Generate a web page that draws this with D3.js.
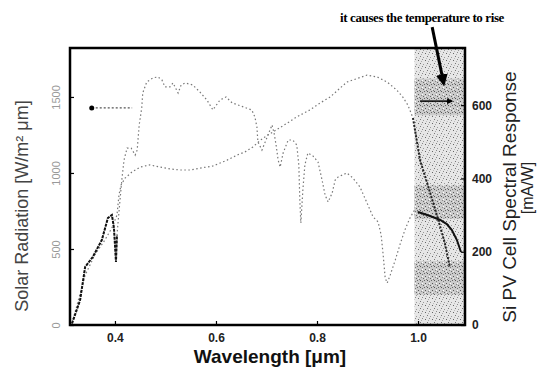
<!DOCTYPE html>
<html>
<head>
<meta charset="utf-8">
<script src="https://cdn.jsdelivr.net/npm/d3@7"></script>
<style>
  body { margin: 0; background: #fff; }
  svg { display: block; }
  .tick line { stroke: #000; stroke-width: 1.2; }
</style>
</head>
<body>
<svg width="537" height="373"></svg>
<script>
// wavelength (um) and solar radiation (W/m2 um)
var solarX = [0.315, 0.331, 0.341, 0.356, 0.374, 0.386, 0.394, 0.398, 0.402, 0.404, 0.410, 0.414, 0.418, 0.424, 0.432, 0.440, 0.444, 0.448,
  0.453, 0.455, 0.463, 0.475, 0.485, 0.493, 0.499, 0.509, 0.515, 0.525, 0.531, 0.539, 0.554, 0.568, 0.582, 0.594, 0.608, 0.620, 0.632,
  0.671, 0.677, 0.681, 0.683, 0.691, 0.699, 0.707, 0.711, 0.715, 0.719, 0.723, 0.727, 0.733, 0.743, 0.752, 0.760, 0.764, 0.766, 0.768,
  0.772, 0.776, 0.782, 0.792, 0.802, 0.810, 0.816, 0.822, 0.830, 0.836, 0.842, 0.859, 0.871, 0.885, 0.899, 0.911, 0.921, 0.927, 0.931,
  0.935, 0.939, 0.945, 0.955, 0.964, 0.974, 0.984, 0.992, 1.000, 1.024, 1.044, 1.057, 1.067, 1.077, 1.085];
var solarY = [10, 164, 382, 447, 559, 704, 724, 638, 414, 592, 822, 967, 1086, 1164, 1164, 1118, 1151, 1316,
  1428, 1526, 1599, 1625, 1632, 1612, 1566, 1566, 1592, 1526, 1579, 1592, 1579, 1533, 1480, 1415, 1480, 1500, 1461,
  1414, 1368, 1303, 1204, 1151, 1217, 1283, 1316, 1263, 1184, 1086, 1039, 1132, 1217, 1217, 1184, 1053, 822, 671,
  888, 1053, 1132, 1112, 1072, 954, 855, 809, 868, 954, 974, 1000, 967, 908, 803, 711, 678, 592, 461,
  309, 276, 329, 428, 526, 625, 704, 750, 743, 717, 691, 664, 625, 559, 480];

// Si cell spectral response (mA/W)
var respX = [0.315, 0.341, 0.360, 0.380, 0.394, 0.404, 0.408, 0.412, 0.420, 0.434, 0.450, 0.469, 0.489, 0.509, 0.529, 0.549, 0.568,
  0.594, 0.622, 0.642, 0.657, 0.673, 0.693, 0.713, 0.741, 0.760, 0.786, 0.806, 0.826, 0.859, 0.899, 0.919, 0.939, 0.958, 0.970,
  0.980, 0.990, 1.004, 1.018, 1.030, 1.040, 1.053, 1.063];
var respY = [5, 136, 191, 232, 265, 300, 355, 382, 401, 418, 431, 437, 431, 426, 423, 423, 428,
  434, 450, 464, 472, 486, 510, 527, 551, 568, 587, 606, 622, 663, 682, 677, 663, 641, 622,
  600, 565, 450, 388, 333, 287, 224, 158];

var xTicks = [0.4, 0.6, 0.8, 1.0];
var leftTicks = [0, 500, 1000, 1500];
var rightTicks = [0, 200, 400, 600];

var shadeFrom = 0.993;   // heated band beyond ~1 um
var denseBands = [[1620, 1380], [920, 700], [420, 200]];  // darker stipple patches (left axis units)
var solarMark = [0.354, 0.434, 1428];   // dot + dotted leader, left axis
var respMark = [1.004, 1.067, 611];      // arrow to right axis
var note = "it causes the temperature to rise";
var notePos = [1.028, 813, 1.051, 658];  // arrow start/end (right axis units)

var svg = d3.select("svg"),
  margin = {top: 48, left: 70, right: 72, bottom: 48},
  width = +svg.attr("width") - margin.left - margin.right,
  height = +svg.attr("height") - margin.top - margin.bottom;

var x = d3.scaleLinear().domain([0.311, 1.093]).range([margin.left, margin.left + width]);
var yL = d3.scaleLinear().domain([0, 1822]).range([margin.top + height, margin.top]);
var yR = d3.scaleLinear().domain([0, 756]).range([margin.top + height, margin.top]);

var solar = solarX.map(function(d, i) { return {x: d, y: solarY[i]}; });
var resp = respX.map(function(d, i) { return {x: d, y: respY[i]}; });

var defs = svg.append("defs");
// stipple patterns for the shaded band
function stipple(id, bg, dots) {
  var p = defs.append("pattern").attr("id", id)
    .attr("width", 7).attr("height", 7).attr("patternUnits", "userSpaceOnUse");
  p.append("rect").attr("width", 7).attr("height", 7).attr("fill", bg);
  dots.forEach(function(d) {
    p.append("rect").attr("x", d[0]).attr("y", d[1]).attr("width", 1).attr("height", 1).attr("fill", d[2]);
  });
}
stipple("stip", "#e6e6e6", [[0, 0, "#777"], [3, 1, "#999"], [5, 4, "#666"], [1, 5, "#aaa"], [6, 2, "#bbb"], [2, 3, "#888"]]);
stipple("stip2", "#cbcbcb", [[0, 0, "#555"], [2, 1, "#777"], [4, 0, "#666"], [5, 3, "#555"], [1, 4, "#888"], [3, 5, "#666"], [6, 6, "#777"], [2, 3, "#fff"], [5, 5, "#eee"]]);

var arrowhead = defs.append("marker").attr("id", "ah")
  .attr("viewBox", "0 0 10 10").attr("refX", 8).attr("refY", 5)
  .attr("markerWidth", 4).attr("markerHeight", 4).attr("orient", "auto");
arrowhead.append("path").attr("d", "M0,0L10,5L0,10z").attr("fill", "#000");

svg.append("rect")
  .attr("x", x(shadeFrom)).attr("y", margin.top)
  .attr("width", x.range()[1] - x(shadeFrom)).attr("height", height)
  .attr("fill", "url(#stip)");
svg.selectAll(".band").data(denseBands).enter().append("rect")
  .attr("class", "band")
  .attr("x", x(shadeFrom)).attr("y", function(d) { return yL(d[0]); })
  .attr("width", x.range()[1] - x(shadeFrom))
  .attr("height", function(d) { return yL(d[1]) - yL(d[0]); })
  .attr("fill", "url(#stip2)");

// curves
var lineL = d3.line().x(function(d) { return x(d.x); }).y(function(d) { return yL(d.y); });
var lineR = d3.line().x(function(d) { return x(d.x); }).y(function(d) { return yR(d.y); });

svg.append("path").datum(solar)
  .attr("fill", "none").attr("stroke", "#777").attr("stroke-width", 1.2)
  .attr("stroke-dasharray", "1.5,2.5").attr("d", lineL);
svg.append("path").datum(resp)
  .attr("fill", "none").attr("stroke", "#777").attr("stroke-width", 1.2)
  .attr("stroke-dasharray", "1.5,2.5").attr("d", lineR);

// darker parts
svg.append("path").datum(solar.filter(function(d) { return d.x <= 0.404; }))
  .attr("fill", "none").attr("stroke", "#111").attr("stroke-width", 2)
  .attr("stroke-dasharray", "3,1").attr("d", lineL);
svg.append("path").datum(solar.filter(function(d) { return d.x >= 1.0; }))
  .attr("fill", "none").attr("stroke", "#111").attr("stroke-width", 2).attr("d", lineL);
svg.append("path").datum(resp.filter(function(d) { return d.x >= 0.99; }))
  .attr("fill", "none").attr("stroke", "#222").attr("stroke-width", 2)
  .attr("stroke-dasharray", "2,1.5").attr("d", lineR);

// series markers
svg.append("line")
  .attr("x1", x(solarMark[0])).attr("x2", x(solarMark[1]))
  .attr("y1", yL(solarMark[2])).attr("y2", yL(solarMark[2]))
  .attr("stroke", "#555").attr("stroke-width", 1.2).attr("stroke-dasharray", "2,2");
svg.append("circle").attr("cx", x(solarMark[0])).attr("cy", yL(solarMark[2])).attr("r", 2.5).attr("fill", "#000");

svg.append("line")
  .attr("x1", x(respMark[0])).attr("x2", x(respMark[1]))
  .attr("y1", yR(respMark[2])).attr("y2", yR(respMark[2]))
  .attr("stroke", "#000").attr("stroke-width", 1.5).attr("marker-end", "url(#ah)");

// axes (ticks inward)
var gx = svg.append("g").attr("transform", "translate(0," + (margin.top + height) + ")")
  .call(d3.axisBottom(x).tickValues(xTicks).tickSize(-4).tickPadding(8).tickFormat(d3.format(".1f")));
gx.select(".domain").remove();
gx.selectAll("text").attr("font-family", "Liberation Sans, Arial, sans-serif")
  .attr("font-size", 12).attr("font-weight", "bold").attr("fill", "#222");

var gl = svg.append("g").attr("transform", "translate(" + margin.left + ",0)")
  .call(d3.axisLeft(yL).tickValues(leftTicks).tickSize(-4).tickPadding(0).tickFormat(d3.format("d")));
gl.select(".domain").remove();
gl.selectAll("text")
  .attr("font-family", "Liberation Sans, Arial, sans-serif").attr("font-size", 11)
  .attr("fill", "#999").attr("x", 0).attr("dy", 0)
  .attr("text-anchor", "middle")
  .attr("transform", "translate(-10,0) rotate(-90)");

var gr = svg.append("g").attr("transform", "translate(" + (margin.left + width) + ",0)")
  .call(d3.axisRight(yR).tickValues(rightTicks).tickSize(-4).tickPadding(7));
gr.select(".domain").remove();
gr.selectAll("text").attr("font-family", "Liberation Sans, Arial, sans-serif")
  .attr("font-size", 12).attr("font-weight", "bold").attr("fill", "#222");

// frame
svg.append("rect")
  .attr("x", margin.left).attr("y", margin.top).attr("width", width).attr("height", height)
  .attr("fill", "none").attr("stroke", "#000").attr("stroke-width", 2.5);

// titles
svg.append("text")
  .attr("transform", "translate(" + 28 + "," + 206 + ") rotate(-90)")
  .attr("text-anchor", "middle").attr("font-family", "Liberation Sans, Arial, sans-serif")
  .attr("font-size", 18).attr("fill", "#444")
  .text("Solar Radiation [W/m\u00B2 \u03BCm]");

svg.append("text")
  .attr("transform", "translate(" + 516 + "," + 197 + ") rotate(-90)")
  .attr("text-anchor", "middle").attr("font-family", "Liberation Sans, Arial, sans-serif")
  .attr("font-size", 19).attr("fill", "#222")
  .text("Si PV Cell Spectral Response");
svg.append("text")
  .attr("transform", "translate(" + 533 + "," + 188 + ") rotate(-90)")
  .attr("text-anchor", "middle").attr("font-family", "Liberation Sans, Arial, sans-serif")
  .attr("font-size", 16).attr("fill", "#222")
  .text("[mA/W]");

svg.append("text")
  .attr("x", 270).attr("y", 363)
  .attr("text-anchor", "middle").attr("font-family", "Liberation Sans, Arial, sans-serif")
  .attr("font-size", 19).attr("font-weight", "bold").attr("fill", "#111")
  .text("Wavelength [\u03BCm]");

// annotation
svg.append("text")
  .attr("x", 422).attr("y", 22)
  .attr("text-anchor", "middle").attr("font-family", "Liberation Serif, Times New Roman, serif")
  .attr("font-size", 13).attr("font-weight", "bold").attr("letter-spacing", -0.4)
  .text(note);
svg.append("line")
  .attr("x1", x(notePos[0])).attr("y1", yR(notePos[1]))
  .attr("x2", x(notePos[2])).attr("y2", yR(notePos[3]))
  .attr("stroke", "#000").attr("stroke-width", 3).attr("marker-end", "url(#ah)");
</script>
</body>
</html>
